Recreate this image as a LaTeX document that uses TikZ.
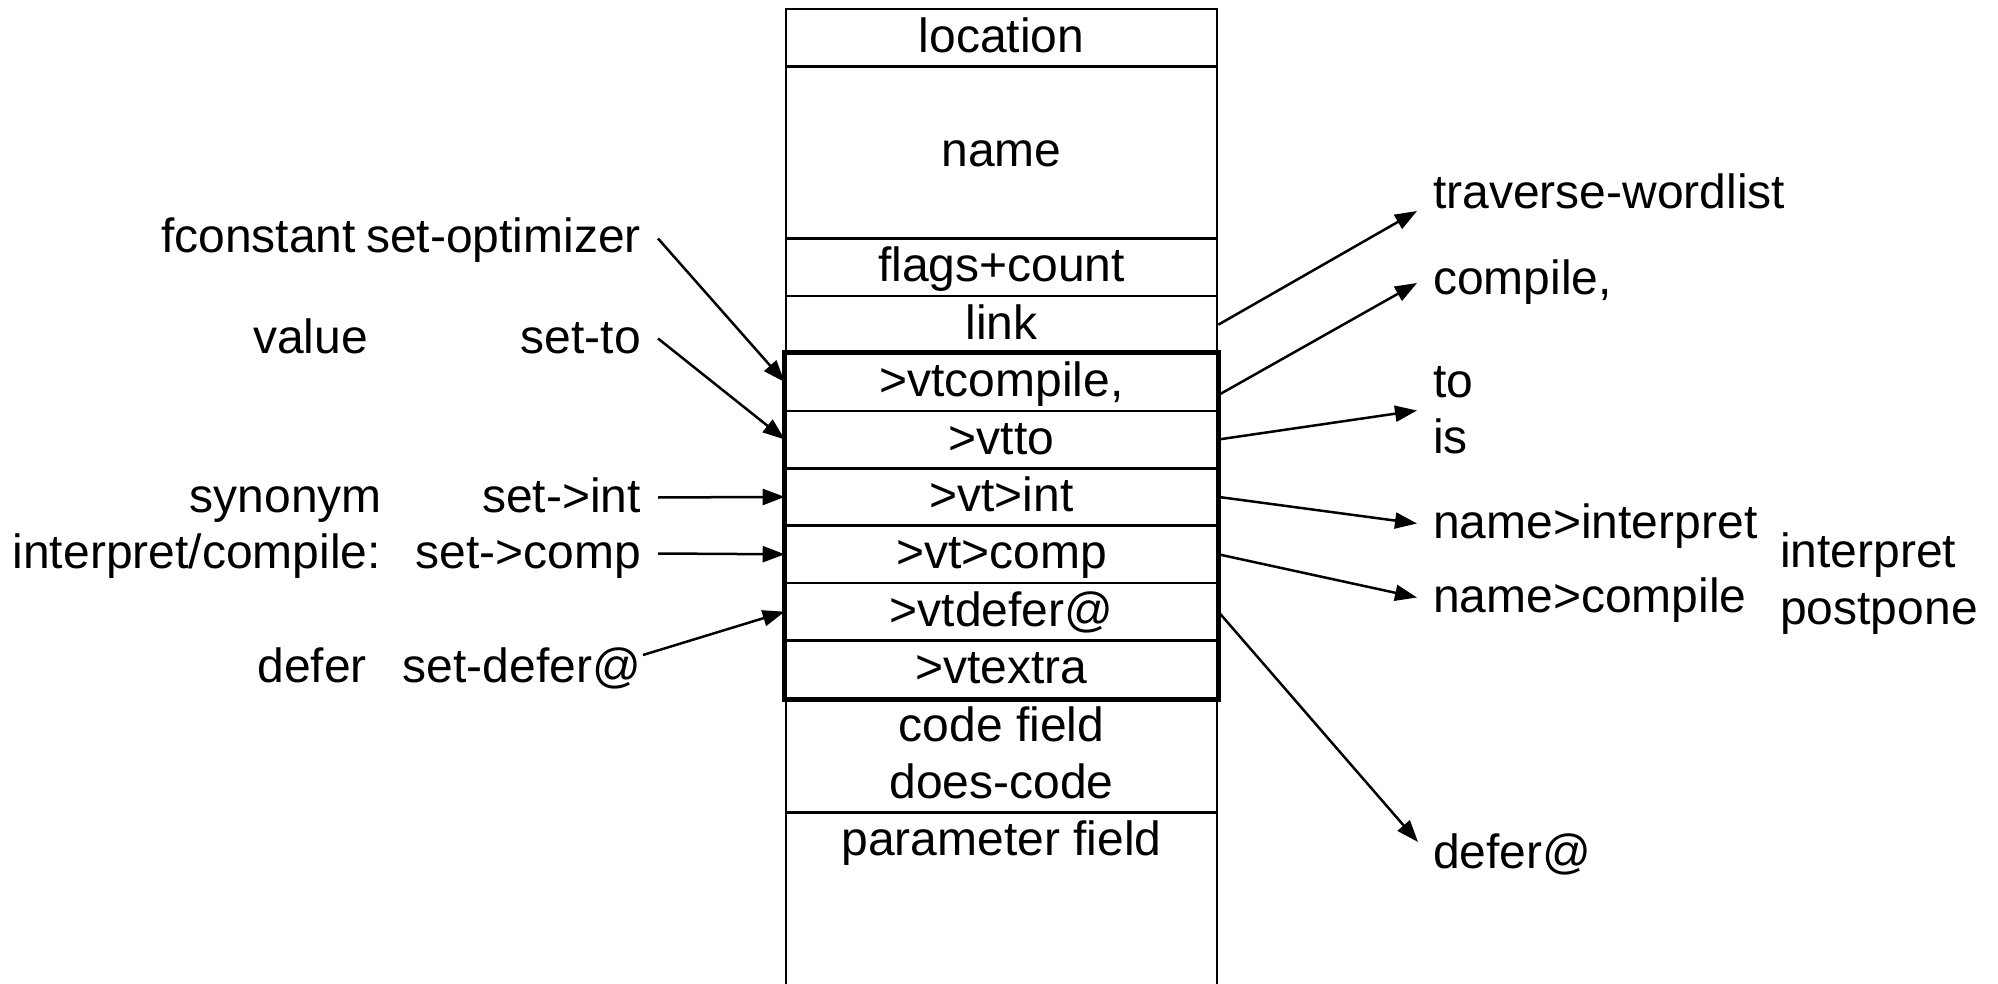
\documentclass[tikz,border=0pt]{standalone}
\usepackage{fontspec}
\setmainfont{Liberation Sans}
\usetikzlibrary{arrows.meta,calc}
\begin{document}
\begin{tikzpicture}[x=1pt,y=-1pt,
  every node/.style={font=\fontsize{48}{57.4}\selectfont, inner sep=0pt},
  cell/.style={draw, line width=2.6pt, minimum width=431pt, minimum height=57.4pt,
               text height=33pt, text depth=4pt},
  lbl/.style={text height=33pt, text depth=4pt},
  lleft/.style={lbl, anchor=base east},
  lright/.style={lbl, anchor=base west},
  conn/.style={line width=2.5pt, -{Triangle[length=22pt,width=16pt]}},
  vtframe/.style={line width=5pt},
]
\useasboundingbox (0,0) rectangle (1998,984);

% header and vtable fields of the word layout
\node[cell] (loc) at (1001.5,37.7) {location};
\node[cell, minimum height=172.2pt] (name) at (1001.5,152.5) {name};
\node[cell] (flags) at (1001.5,267.3) {flags+count};
\node[cell] (link) at (1001.5,324.7) {link};
\node[cell] (vtcompile) at (1001.5,382.1) {>vtcompile,};
\node[cell] (vtto) at (1001.5,439.5) {>vtto};
\node[cell] (vtint) at (1001.5,496.9) {>vt>int};
\node[cell] (vtcomp) at (1001.5,554.3) {>vt>comp};
\node[cell] (vtdefer) at (1001.5,611.7) {>vtdefer@};
\node[cell] (vtextra) at (1001.5,669.1) {>vtextra};
\node[cell, minimum height=114.8pt] (code) at (1001.5,755.2) {};
\node[lbl] (codetxt) at (1001.5,726.5) {code field};
\node[lbl] (doestxt) at (1001.5,783.9) {does-code};
\node[cell, minimum height=172.2pt] (param) at (1001.5,898.7) {};
\node[lbl] (paramtxt) at (1001.5,841.3) {parameter field};

% the vtable block
\draw[vtframe] (vtcompile.north west) rectangle (vtextra.south east);

% setters on the left
\node[lleft] (fconst) at (356,253) {fconstant};
\node[lleft] (setopt) at (641,253) {set-optimizer};
\node[lleft] (value) at (368,353) {value};
\node[lleft] (setto) at (641,353) {set-to};
\node[lleft] (synonym) at (382,512) {synonym};
\node[lleft] (setint) at (641,512) {set->int};
\node[lleft] (intcomp) at (381,568) {interpret/compile:};
\node[lleft] (setcomp) at (641,568) {set->comp};
\node[lleft] (deferw) at (367,682) {defer};
\node[lleft] (setdefer) at (641,682) {set-defer@};

\draw[conn] ([xshift=17pt]setopt.east) -- (vtcompile.west);
\draw[conn] ([xshift=17pt]setto.east) -- (vtto.west);
\draw[conn] ([xshift=17pt]setint.east) -- (vtint.west);
\draw[conn] ([xshift=17pt]setcomp.east) -- (vtcomp.west);
\draw[conn] ([xshift=2pt,yshift=12.5pt]setdefer.east) -- (vtdefer.west);

% users on the right
\node[lright] (trav) at (1433,209) {traverse-wordlist};
\node[lright] (compile) at (1433,295) {compile,};
\node[lright] (to) at (1433,397) {to};
\node[lright] (is) at (1433,453) {is};
\node[lright] (nint) at (1433,538) {name>interpret};
\node[lright] (ncomp) at (1433,612) {name>compile};
\node[lright] (interp) at (1780,567) {interpret};
\node[lright] (postp) at (1780,624) {postpone};
\node[lright] (deferat) at (1433,868) {defer@};

\draw[conn] (link.east) -- ([xshift=-16pt,yshift=-16.5pt]trav.west);
\draw[conn] ([yshift=-13pt]vtcompile.east) -- ([xshift=-16pt,yshift=-2.5pt]compile.west);
\draw[conn] (vtto.east) -- ($(to.west)!0.5!(is.west)+(-16,0)$);
\draw[conn] (vtint.east) -- ([xshift=-16pt]nint.west);
\draw[conn] (vtcomp.east) -- ([xshift=-16pt]ncomp.west);
\draw[conn] (vtdefer.east) -- ([xshift=-15pt,yshift=11.5pt]deferat.west);
\end{tikzpicture}
\end{document}
